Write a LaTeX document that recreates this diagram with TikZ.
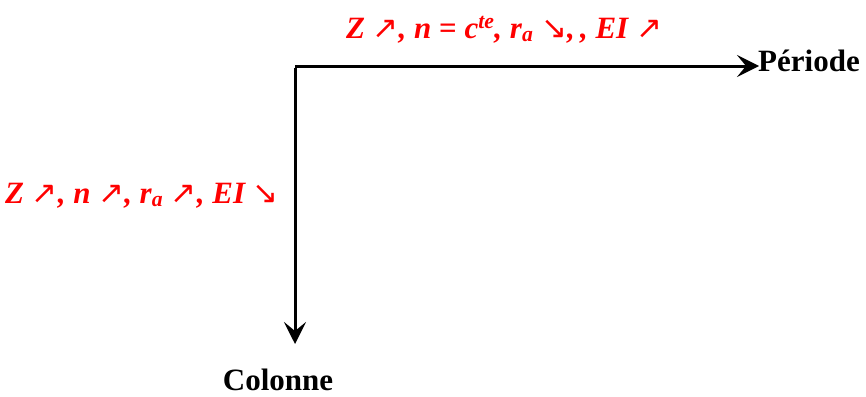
\documentclass[tikz,border=0pt]{standalone}
\usepackage{fontspec}
\setmainfont{Liberation Serif}
\newfontfamily\flfont{DejaVu Sans}
\usetikzlibrary{arrows.meta,positioning}
\definecolor{Loi}{HTML}{FF0000}
\newcommand{\mont}{{\upshape\mdseries\flfont ↗}}
\newcommand{\desc}{{\upshape\mdseries\flfont ↘}}

\begin{document}
\begin{tikzpicture}[x=1pt, y=-1pt,
    axe/.style={-{Stealth[length=22pt, width=22pt, inset=9pt]}, line width=3pt, black},
    titre/.style={font=\fontsize{31}{36}\selectfont\bfseries, inner sep=0pt},
    loi/.style={text=Loi, font=\fontsize{31}{36}\selectfont\bfseries\itshape, inner sep=0pt}]
    \useasboundingbox (0,0) rectangle (866,396);
    \coordinate (coin) at (295,66);
    \coordinate (droite) at (759,66);
    \coordinate (bas) at (295,344);
    \node[titre, anchor=base west] (periode) at (758,71) {Période};
    \node[titre, anchor=base] (colonne) at (278,390) {Colonne};
    \node[loi, anchor=base] (loiper) at (504,38) {Z \mont, n {\upshape=} c\textsuperscript{te}, r\textsubscript{a} \desc,\,, EI \mont};
    \node[loi, anchor=base] (loicol) at (142,203) {Z \mont, n \mont, r\textsubscript{a} \mont, EI \desc};
    \draw[axe] (coin) -- (droite);
    \draw[axe] ([yshift=-1.5pt]coin) -- (bas);
  \end{tikzpicture}
\end{document}
